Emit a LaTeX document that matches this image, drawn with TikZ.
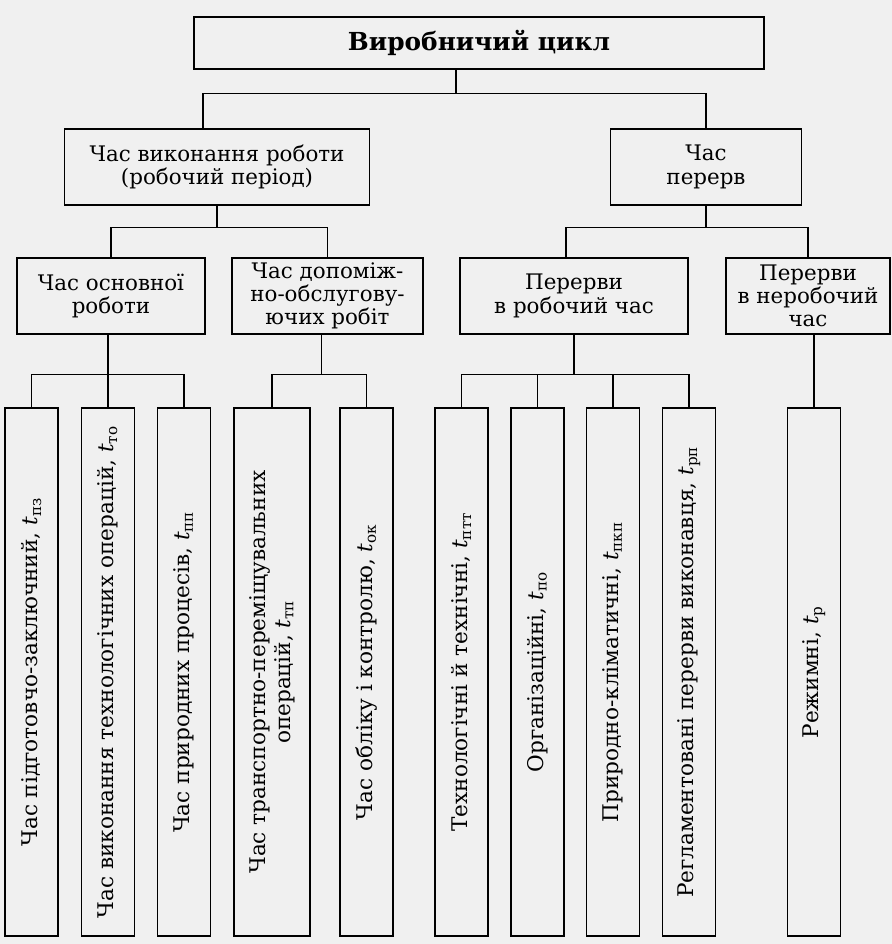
\documentclass[tikz,border=0pt]{standalone}
\usepackage{fontspec}
\setmainfont{DejaVu Serif}

\newcommand{\tidx}[1]{\textit{t}\textsubscript{#1}}

\begin{document}
\begin{tikzpicture}[x=0.5pt,y=-0.5pt,
    blk/.style={draw,line width=0.7pt,inner sep=1pt,align=center,
      minimum height=38pt,font=\fontsize{10.7}{11.6}\selectfont},
    vblk/.style={blk,rotate=90,minimum width=264pt,
      font=\fontsize{10.8}{12.5}\selectfont},
    link/.style={line width=0.7pt}]
  \fill[black!6] (0,0) rectangle (892,944);
  \useasboundingbox (0,0) rectangle (892,944);
  % top level
  \node[blk,minimum width=285pt,minimum height=26pt,
    font=\bfseries\fontsize{12.4}{14}\selectfont] (cycle) at (479,43) {Виробничий цикл};
  % second row
  \node[blk,minimum width=152.5pt] (work) at (217,167) {Час виконання роботи\\(робочий період)};
  \node[blk,minimum width=95.5pt] (brk) at (706,167) {Час\\перерв};
  % third row
  \node[blk,minimum width=94pt] (main) at (111,296) {Час основної\\роботи};
  \node[blk,minimum width=95.5pt] (aux) at (327.5,296) {Час допоміж-\\но-обслугову-\\ючих робіт};
  \node[blk,minimum width=114pt] (brkw) at (574,296) {Перерви\\в робочий час};
  \node[blk,minimum width=82pt] (nonw) at (808,296) {Перерви\\в неробочий\\час};
  % bottom row, rotated
  \foreach \nm/\cx/\bw/\txt in {
      r1/31.5/26.5/{Час підготовчо-заключний, \tidx{пз}},
      r2/108/26.5/{Час виконання технологічних операцій, \tidx{то}},
      r3/184/26.5/{Час природних процесів, \tidx{пп}},
      r4/272/38/{Час транспортно-переміщувальних\\операцій, \tidx{тп}},
      r5/366.5/26.5/{Час обліку і контролю, \tidx{ок}},
      r6/461.5/26.5/{Технологічні й технічні, \tidx{птт}},
      r7/537.5/26.5/{Організаційні, \tidx{по}},
      r8/613/26.5/{Природно-кліматичні, \tidx{пкп}},
      r9/689/26.5/{Регламентовані перерви виконавця, \tidx{рп}},
      r10/814/26.5/{Режимні, \tidx{р}}}
    \node[vblk,minimum height=\bw pt] (\nm) at (\cx,672) {\txt};
  % connectors
  \draw[link] ([xshift=-11.5pt]cycle.south) -- ++(0,23.5) -| ([xshift=-7pt]work.north);
  \draw[link] ([xshift=-11.5pt]cycle.south) -- ++(0,23.5) -| (brk.north);
  \foreach \c in {main,aux}
    \draw[link] (work.south) -- ++(0,22) -| (\c.north);
  \draw[link] (brk.south) -- ++(0,22) -| ([xshift=-4pt]brkw.north);
  \draw[link] (brk.south) -- ++(0,22) -| (nonw.north);
  \draw[link] (r2.east |- main.south) -- (r2.east);
  \foreach \c in {r1,r3}
    \draw[link] (r2.east |- main.south) -- ++(0,40) -| (\c.east);
  \foreach \c in {r4,r5}
    \draw[link] ([xshift=-3pt]aux.south) -- ++(0,40) -| (\c.east);
  \foreach \c in {r6,r7,r8,r9}
    \draw[link] (brkw.south) -- ++(0,40) -| (\c.east);
  \draw[link] (r10.east |- nonw.south) -- (r10.east);
\end{tikzpicture}
\end{document}
